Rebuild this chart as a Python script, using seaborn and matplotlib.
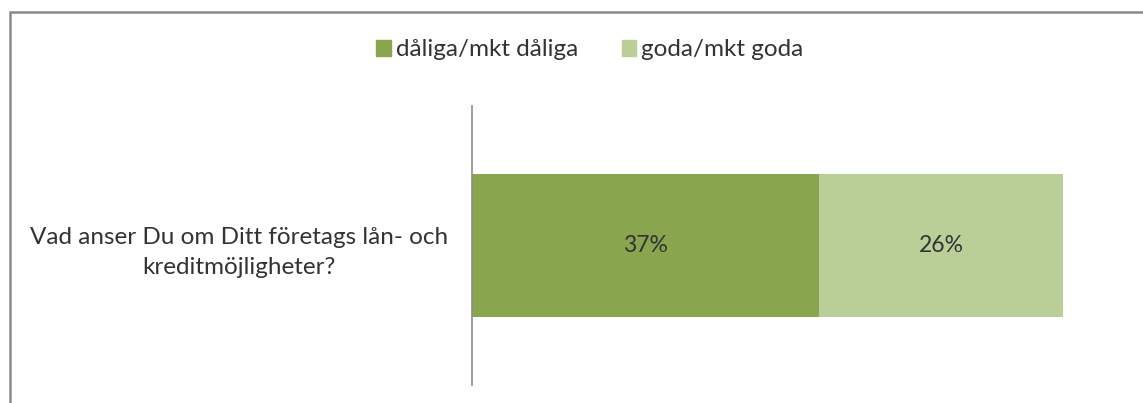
import matplotlib
matplotlib.use("Agg")
import matplotlib.pyplot as plt
import seaborn as sns
import pandas as pd
from matplotlib.patches import Rectangle

categories = ["Vad anser Du om Ditt företags lån- och\nkreditmöjligheter?"]
series_names = ["dåliga/mkt dåliga", "goda/mkt goda"]
daliga = [37]
goda = [26]
colors = ["#89A54E", "#BACF98"]

sns.set_theme(style="white")
plt.rcParams['font.family'] = ['Lato', 'DejaVu Sans']

W, H = 1143, 403
fig = plt.figure(figsize=(W / 100, H / 100), dpi=100)
ax = fig.add_axes([472 / W, (H - 385) / H, 657 / W, (385 - 106) / H])

df = pd.DataFrame({"cat": categories,
                   "total": [d + g for d, g in zip(daliga, goda)],
                   "first": daliga})

sns.barplot(data=df, y="cat", x="total", color=colors[1], orient="h",
            width=0.51, ax=ax, saturation=1, edgecolor="none")
sns.barplot(data=df, y="cat", x="first", color=colors[0], orient="h",
            width=0.51, ax=ax, saturation=1, edgecolor="none")

ax.set_xlim(0, 70)
ax.set_ylim(0.5, -0.5)
ax.set_xlabel("")
ax.set_ylabel("")
ax.set_xticks([])
for s in ["top", "right", "bottom"]:
    ax.spines[s].set_visible(False)
ax.spines["left"].set_color("#8C8C8C")
ax.spines["left"].set_linewidth(1.2)
ax.tick_params(axis="y", length=0, pad=17)
for lbl in ax.get_yticklabels():
    lbl.set_multialignment("center")
    lbl.set_fontsize(17.5)
    lbl.set_color("#333333")
    lbl.set_linespacing(1.55)

# data labels
for i, (d, g) in enumerate(zip(daliga, goda)):
    ax.text(d / 2, i, f"{d}%", ha="center", va="center", fontsize=16.5, color="#333333")
    ax.text(d + g / 2, i, f"{g}%", ha="center", va="center", fontsize=16.5, color="#333333")

# legend
handles = [Rectangle((0, 0), 1, 1, color=c) for c in colors]
fig.legend(handles, series_names, loc="center", bbox_to_anchor=(590 / W, 1 - 50 / H),
           ncol=2, frameon=False, fontsize=17.5, handlelength=0.6, handleheight=0.6,
           handletextpad=0.2, columnspacing=1.8, labelcolor="#333333")

# chart border
fig.patches.append(Rectangle((10 / W, -0.1), 1.2, (H - 12) / H + 0.1,
                             transform=fig.transFigure, fill=False,
                             edgecolor="#8A8A8A", linewidth=1.8))

fig.savefig("out.png", dpi=100)
